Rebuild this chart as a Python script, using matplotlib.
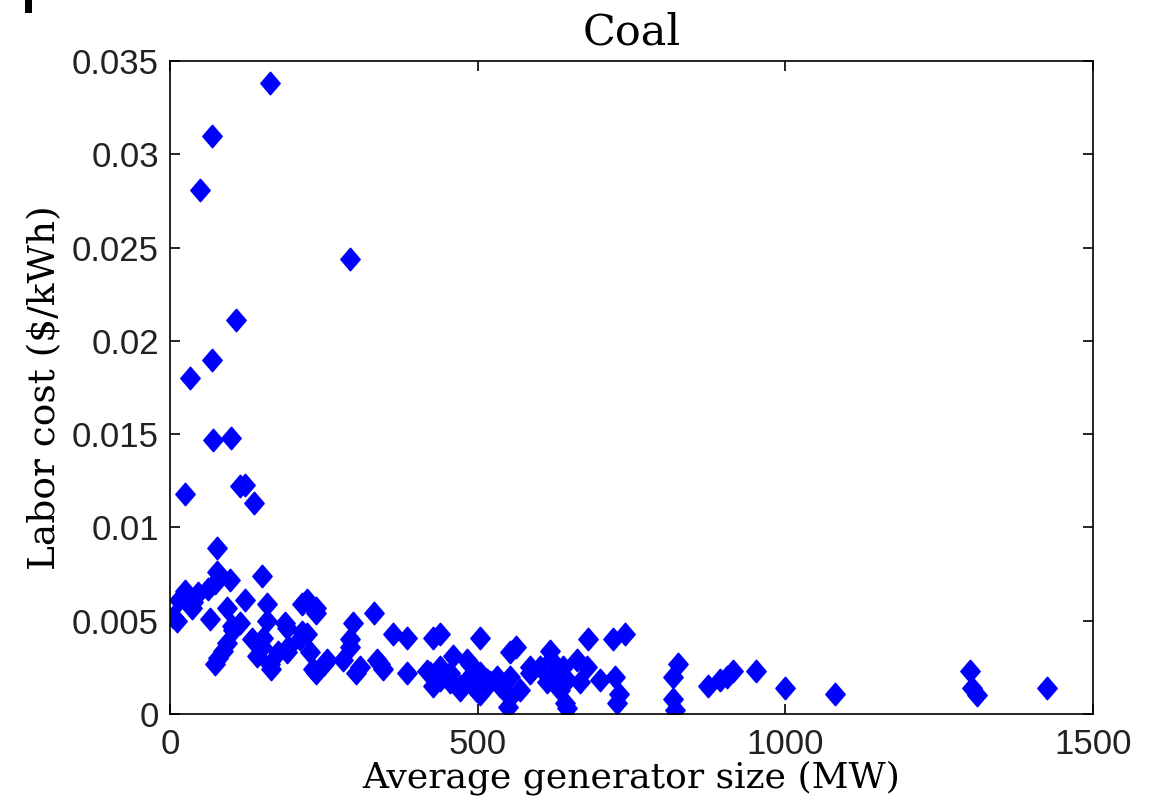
import numpy as np
import matplotlib
matplotlib.use('Agg')
import matplotlib.pyplot as plt
from matplotlib.path import Path
from matplotlib.patches import Rectangle

# average generator size (MW) and labor cost ($/kWh)
size_mw = [
    162, 68, 49, 293, 107, 68, 33, 70, 99, 24, 114, 122, 137, 76,
    76, 97, 149, 24, 11, 5, 46, 62, 73, 38, 14, 35, 65, 92, 122, 114,
    103, 100, 92, 86, 73, 78, 157, 157, 152, 133, 149, 141, 165, 162,
    176, 187, 190, 192, 190, 214, 211, 222, 238, 238, 214, 233, 238, 228,
    222, 255, 250,
    298, 293, 293, 282, 303, 309, 331, 336, 347, 341, 363, 385, 385, 417,
    428, 439, 439, 428, 423, 439, 460, 455, 455, 471, 471, 482, 487, 493,
    482, 504, 504, 504, 498, 520, 515, 531, 536, 553, 563, 553, 553, 550,
    569, 585, 585, 601, 618, 612, 628, 620, 634, 639, 645, 642, 645, 661,
    666, 677, 680, 699, 720, 739, 723, 729, 726,
    826, 818, 818, 820, 875, 894, 905, 915, 953, 1000, 1081,
    1300, 1303, 1311, 1426,
]
labor_cost = [
    0.0338, 0.0310, 0.0281, 0.0244, 0.0211, 0.0190, 0.0180, 0.0147, 0.0148,
    0.0118, 0.0122, 0.0123, 0.0113, 0.0089,
    0.0076, 0.0072, 0.0074, 0.0066, 0.0050, 0.0052, 0.0065, 0.0067, 0.0070,
    0.0060, 0.0061, 0.0057, 0.0051, 0.0057, 0.0061, 0.0049,
    0.0045, 0.0047, 0.0038, 0.0034, 0.0027, 0.0030, 0.0059, 0.0050, 0.0041,
    0.0040, 0.0036, 0.0031, 0.0024, 0.0027,
    0.0033, 0.0049, 0.0046, 0.0036, 0.0033, 0.0059, 0.0040, 0.0061, 0.0057,
    0.0054, 0.0044, 0.0024, 0.0022, 0.0033,
    0.0043, 0.0029, 0.0027,
    0.0049, 0.0040, 0.0036, 0.0029, 0.0022, 0.0025, 0.0054, 0.0029, 0.0024,
    0.0027, 0.0043, 0.0041, 0.0022, 0.0023,
    0.0041, 0.0043, 0.0025, 0.0015, 0.0022, 0.0018, 0.0031, 0.0017, 0.0022,
    0.0013, 0.0015, 0.0029, 0.0027, 0.0020,
    0.0018, 0.0041, 0.0022, 0.0011, 0.0013, 0.0017, 0.0018, 0.0020, 0.0015,
    0.0033, 0.0036, 0.0020, 0.0009, 0.0004,
    0.0013, 0.0025, 0.0022, 0.0025, 0.0034, 0.0017, 0.0022, 0.0029, 0.0013,
    0.0025, 0.0018, 0.0006, 0.0003, 0.0029,
    0.0017, 0.0025, 0.0040, 0.0018, 0.0040, 0.0043, 0.0020, 0.0011, 0.0006,
    0.0027, 0.0020, 0.0008, 0.0002, 0.0015, 0.0018, 0.0020, 0.0023, 0.0023,
    0.0014, 0.0011,
    0.0023, 0.0014, 0.0010, 0.0014,
]

x_ticks = [0, 500, 1000, 1500]
y_ticks = [0, 0.005, 0.01, 0.015, 0.02, 0.025, 0.03, 0.035]
y_tick_labels = ['0', '0.005', '0.01', '0.015', '0.02', '0.025', '0.03', '0.035']

# matlab style diamond, a bit taller than wide
diamond = Path([(0, 1), (0.86, 0), (0, -1), (-0.86, 0), (0, 1)],
               [Path.MOVETO, Path.LINETO, Path.LINETO, Path.LINETO, Path.CLOSEPOLY])

fig = plt.figure(figsize=(11.5, 8.06), dpi=100)
ax = fig.add_axes([0.1478, 0.1141, 0.8026, 0.8102])

ax.plot(size_mw, labor_cost, linestyle='none', marker=diamond, markersize=16,
        color='#0000ff', markeredgecolor='#0000ff', markeredgewidth=1.2)

ax.set_xlim(0, 1500)
ax.set_ylim(0, 0.035)
ax.set_xticks(x_ticks)
ax.set_xticklabels([str(t) for t in x_ticks])
ax.set_yticks(y_ticks)
ax.set_yticklabels(y_tick_labels)

for sp in ax.spines.values():
    sp.set_linewidth(1.2)
ax.tick_params(direction='in', length=7, width=1.2, top=True, right=True)
ax.tick_params(axis='x', pad=10)
ax.tick_params(axis='y', pad=8)
for lab in ax.get_xticklabels() + ax.get_yticklabels():
    lab.set_fontfamily('Liberation Sans')
    lab.set_fontsize(25)
    lab.set_color('#222222')

ax.set_title('Coal', family='DejaVu Serif', fontsize=31, pad=12)
ax.set_xlabel('Average generator size (MW)', family='DejaVu Serif', fontsize=26, labelpad=0)
ax.set_ylabel('Labor cost ($/kWh)', family='DejaVu Serif', fontsize=27, labelpad=6)

# cut-off fragment in the top left corner of the original
fig.patches.append(Rectangle((0.0217, 0.9839), 0.0061, 0.0161, transform=fig.transFigure,
                             facecolor='black', edgecolor='none'))

fig.savefig('out.png', dpi=100)
